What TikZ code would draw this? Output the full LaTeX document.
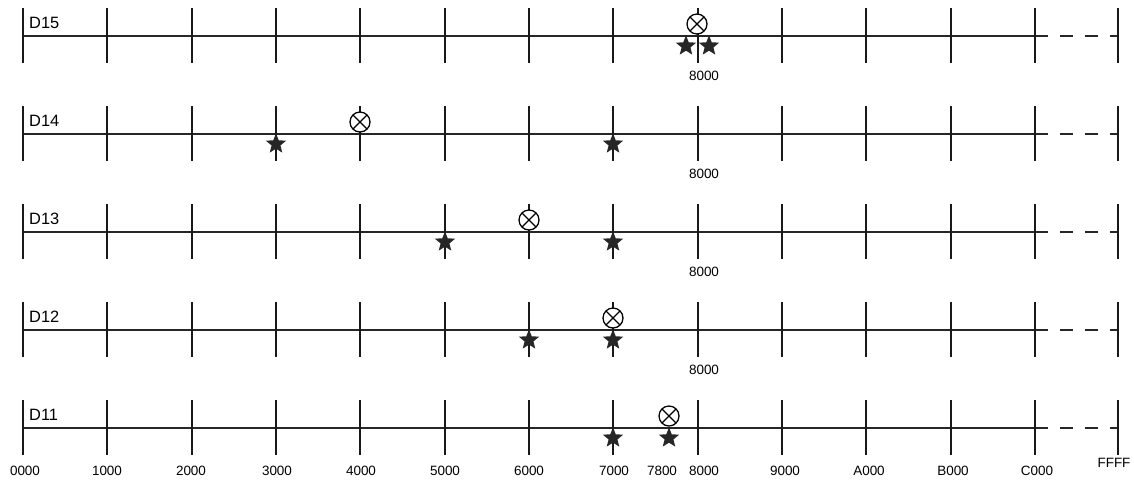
\documentclass[tikz,border=0pt]{standalone}
\usepackage{fontspec}
\setmainfont{Liberation Sans}
\usetikzlibrary{shapes.geometric, positioning}

\begin{document}
\begin{tikzpicture}[x=0.3mm, y=-0.3mm,
  axis/.style={line width=1.4pt, draw=black!85},
  tickline/.style={line width=1.6pt, draw=black!90},
  rowlbl/.style={font=\fontsize{14}{16}\selectfont, anchor=base west, inner sep=0},
  addr/.style={font=\fontsize{11.5}{13}\selectfont, inner sep=0},
  hitstar/.style={star, star points=5, star point ratio=2.3, fill=black!85, minimum size=6.4mm, inner sep=0},
  probe/.style={circle, draw, fill=white, line width=1.1pt, minimum size=6mm, inner sep=0,
    path picture={\draw[line width=1.1pt] (path picture bounding box.north west) -- (path picture bounding box.south east)
      (path picture bounding box.north east) -- (path picture bounding box.south west);}}
]
\useasboundingbox (0,0) rectangle (1134,479);

% Address axes, one per register
\foreach \r/\y in {15/36, 14/134, 13/232, 12/330, 11/428} {
  \coordinate (r\r w) at (23,\y);
  \coordinate (r\r e) at (1035,\y);
  \coordinate (r\r f) at (1118,\y);
  \draw[axis] (r\r w) -- (r\r e);
  \draw[axis, dash pattern=on 3.75mm off 3.75mm] (r\r e) -- (r\r f);
  \foreach \i in {1,...,12}
    \draw[tickline] (23+84.333*\i,\y-28) -- (23+84.333*\i,\y+27);
  \draw[tickline, line width=2.2pt] (23,\y-28) -- (23,\y+27);
  \draw[tickline, line width=2pt] (1118,\y-28) -- (1118,\y+27);
  \node[rowlbl] (lbl\r) at (29,\y-8) {D\r};
}

% 8000 marks under the upper rows
\node[addr] (m15) at (704,76) {8000};
\node[addr] (m14) at (704,174) {8000};
\node[addr] (m13) at (704,272) {8000};
\node[addr] (m12) at (704,370) {8000};

% Row D15
\node[probe]   (c15)  at (697,24) {};
\node[hitstar] (s15a) at (686,46) {};
\node[hitstar] (s15b) at (709,46) {};

% Row D14
\node[hitstar] (s14a) at (276,144) {};
\node[probe]   (c14)  at (360,122) {};
\node[hitstar] (s14b) at (613,144) {};

% Row D13
\node[hitstar] (s13a) at (445,242) {};
\node[probe]   (c13)  at (529,220) {};
\node[hitstar] (s13b) at (613,242) {};

% Row D12
\node[hitstar] (s12a) at (529,340) {};
\node[probe]   (c12)  at (613,318) {};
\node[hitstar] (s12b) at (613,340) {};

% Row D11
\node[hitstar] (s11a) at (613,438) {};
\node[probe]   (c11)  at (669,416) {};
\node[hitstar] (s11b) at (669,438) {};

% Address scale
\foreach \x/\t in {25/0000, 107/1000, 191/2000, 277/3000, 361/4000, 445/5000, 529/6000,
                   614/7000, 662/7800, 704/8000, 785/9000, 869/A000, 953/B000, 1037/C000}
  \node[addr] (a\t) at (\x,471) {\t};
\node[addr] (aFFFF) at (1114,463) {FFFF};

\end{tikzpicture}
\end{document}
